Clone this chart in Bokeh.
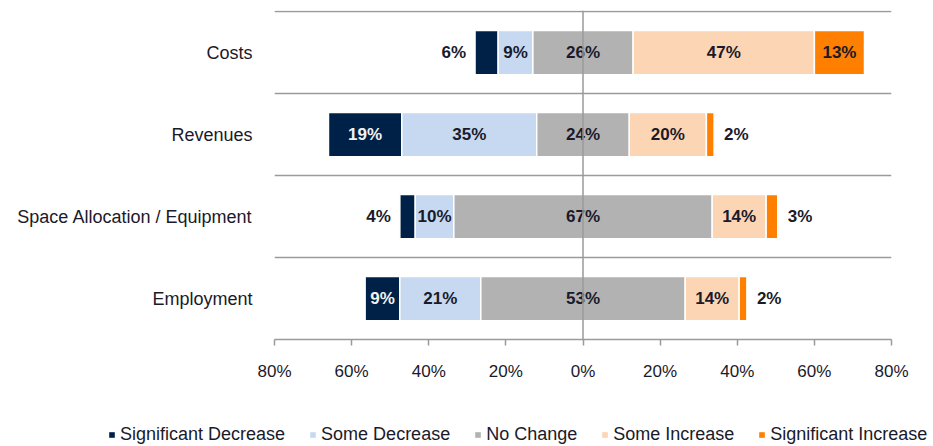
from bokeh.plotting import figure
from bokeh.layouts import column, row
from bokeh.models import ColumnDataSource, Range1d, FixedTicker, Span, Legend, LegendItem
from bokeh.core.properties import value
from bokeh.embed import file_html
from bokeh.resources import INLINE

categories = ["Costs", "Revenues", "Space Allocation / Equipment", "Employment"]
series = ["Significant Decrease", "Some Decrease", "No Change", "Some Increase", "Significant Increase"]
sig_decrease = [6, 19, 4, 9]
some_decrease = [9, 35, 10, 21]
no_change = [26, 24, 67, 53]
some_increase = [47, 20, 14, 14]
sig_increase = [13, 2, 3, 2]
colors = ["#002147", "#C6D9F1", "#B2B2B2", "#FCD5B5", "#FF7F00"]
x_ticks = [-80, -60, -40, -20, 0, 20, 40, 60, 80]
x_tick_labels = ["80%", "60%", "40%", "20%", "0%", "20%", "40%", "60%", "80%"]

FONT = "Liberation Sans"
TXT = "#1a1a2a"
GRID = "#9a9a9a"

n = len(categories)
ys = [n - i - 0.5 for i in range(n)]
values = [sig_decrease, some_decrease, no_change, some_increase, sig_increase]

# compute segment edges (diverging, No Change centred at 0)
lefts = [[0] * n for _ in range(5)]
rights = [[0] * n for _ in range(5)]
for i in range(n):
    nc = no_change[i]
    lefts[2][i], rights[2][i] = -nc / 2, nc / 2
    rights[1][i] = -nc / 2
    lefts[1][i] = rights[1][i] - some_decrease[i]
    rights[0][i] = lefts[1][i]
    lefts[0][i] = rights[0][i] - sig_decrease[i]
    lefts[3][i] = nc / 2
    rights[3][i] = lefts[3][i] + some_increase[i]
    lefts[4][i] = rights[3][i]
    rights[4][i] = lefts[4][i] + sig_increase[i]

p = figure(width=933, height=412, output_backend="svg", toolbar_location=None,
           x_range=Range1d(-80, 80), y_range=Range1d(0, 4.015),
           min_border_left=274, min_border_right=42, min_border_top=10, min_border_bottom=73)
p.outline_line_color = None
p.background_fill_color = "white"
p.border_fill_color = "white"

for k in range(5):
    src = ColumnDataSource(dict(y=ys, left=lefts[k], right=rights[k]))
    p.hbar(y="y", left="left", right="right", height=0.54, source=src,
           fill_color=colors[k], line_color="white", line_width=1.5)

# labels
lx, ly, lt, la, lo, lc = [], [], [], [], [], []
for k in range(5):
    for i in range(n):
        v = values[k][i]
        outside = (k in (0, 4)) and v <= 6
        if outside and k == 0:
            lx.append(lefts[k][i]); la.append("right"); lo.append(-9)
        elif outside and k == 4:
            lx.append(rights[k][i]); la.append("left"); lo.append(10)
        else:
            lx.append((lefts[k][i] + rights[k][i]) / 2); la.append("center"); lo.append(0)
        ly.append(ys[i])
        lt.append(f"{v}%")
        lc.append("#f2f2f2" if (k == 0 and not outside) else TXT)
lsrc = ColumnDataSource(dict(x=lx, y=ly, t=lt, a=la, o=lo, c=lc))
p.text(x="x", y="y", text="t", source=lsrc, text_align="a", x_offset="o",
       text_baseline="middle", text_color="c", text_font=value(FONT),
       text_font_size="17px", text_font_style="bold")

# vertical zero line
p.add_layout(Span(location=0, dimension="height", line_color=GRID, line_width=1.5))

# grids
p.xgrid.visible = False
p.ygrid.ticker = FixedTicker(ticks=[1, 2, 3, 4])
p.ygrid.grid_line_color = GRID
p.ygrid.grid_line_width = 1.5

# y axis
p.yaxis.ticker = FixedTicker(ticks=ys)
p.yaxis.major_label_overrides = {y: c for y, c in zip(ys, categories)}
p.yaxis.axis_line_color = None
p.yaxis.major_tick_line_color = None
p.yaxis.minor_tick_line_color = None
p.yaxis.major_label_standoff = 16
p.yaxis.major_label_text_font = FONT
p.yaxis.major_label_text_font_size = "18px"
p.yaxis.major_label_text_color = TXT

# x axis
p.xaxis.ticker = FixedTicker(ticks=x_ticks)
p.xaxis.major_label_overrides = {t: l for t, l in zip(x_ticks, x_tick_labels)}
p.xaxis.axis_line_color = GRID
p.xaxis.axis_line_width = 1.5
p.xaxis.major_tick_line_color = GRID
p.xaxis.major_tick_line_width = 1.5
p.xaxis.major_tick_in = 0
p.xaxis.major_tick_out = 6
p.xaxis.minor_tick_line_color = None
p.xaxis.major_label_standoff = 16
p.xaxis.major_label_text_font = FONT
p.xaxis.major_label_text_font_size = "17px"
p.xaxis.major_label_text_color = TXT

# legend strip below the chart
pl = figure(width=933, height=34, output_backend="svg", toolbar_location=None,
            x_range=Range1d(0, 1), y_range=Range1d(0, 1),
            min_border_left=0, min_border_right=0, min_border_top=0, min_border_bottom=0)
pl.axis.visible = False
pl.grid.visible = False
pl.outline_line_color = None
pl.border_fill_color = "white"
items = []
for k in range(5):
    # off-screen proxy glyph, used only for the legend swatch
    r = pl.hbar(y=[50], left=[50], right=[51], height=0.5,
                fill_color=colors[k], line_color=None)
    items.append(LegendItem(label=series[k], renderers=[r]))
legend = Legend(items=items, orientation="horizontal", location=(108, 1),
                glyph_width=7, glyph_height=7, label_standoff=5, spacing=24,
                padding=0, margin=0, border_line_color=None, background_fill_alpha=0,
                label_text_font=FONT, label_text_font_size="18px", label_text_color=TXT)
pl.add_layout(legend, "center")

layout = column(p, row(pl), spacing=0)
open("out.html", "w").write(file_html(layout, INLINE))
